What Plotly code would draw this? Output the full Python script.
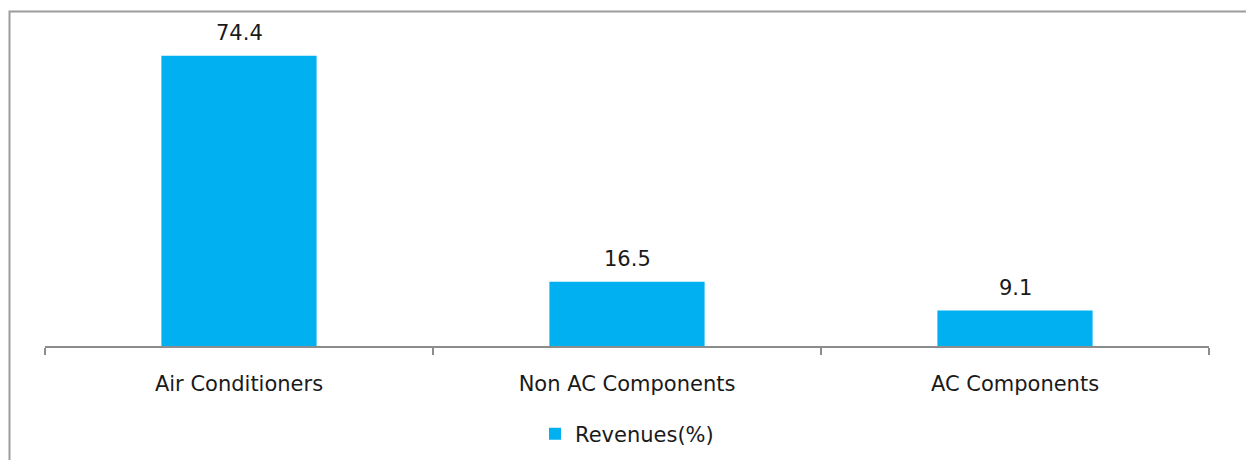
import plotly.graph_objects as go

categories = ["Air Conditioners", "Non AC Components", "AC Components"]
revenues = [74.4, 16.5, 9.1]
series_name = "Revenues(%)"

FONT = "DejaVu Sans"
TXT = "#1a1a1a"
FS = 21

fig = go.Figure()
fig.add_trace(go.Bar(
    x=categories, y=revenues, name=series_name,
    marker=dict(color="#00B0F0", line=dict(width=0)),
    showlegend=True,
))

for c, v in zip(categories, revenues):
    fig.add_annotation(x=c, y=v, text=f"{v:.1f}", showarrow=False,
                       yanchor="bottom", yshift=9,
                       font=dict(family=FONT, size=FS, color=TXT))

# outer chart border
fig.add_shape(type="rect", xref="paper", yref="paper",
              x0=-0.0305, x1=1.04, y0=-0.4, y1=1.072,
              line=dict(color="#9c9c9c", width=2), fillcolor="rgba(0,0,0,0)")

fig.update_layout(
    width=1246, height=460,
    margin=dict(l=45, r=37, t=34, b=114, autoexpand=False),
    paper_bgcolor="white", plot_bgcolor="white",
    bargap=0.6,
    font=dict(family=FONT, size=FS, color=TXT),
    legend=dict(orientation="h", x=0.5, xanchor="center", y=-0.282, yanchor="middle",
                font=dict(family=FONT, size=FS, color=TXT), itemwidth=30),
    xaxis=dict(type="category", range=[-0.5, 2.5], showline=True, linecolor="#8c8c8c",
               linewidth=2, ticks="outside", tickson="boundaries", ticklen=7,
               tickcolor="#8c8c8c", tickwidth=2, ticklabelstandoff=18,
               showgrid=False, zeroline=False,
               tickfont=dict(family=FONT, size=FS, color=TXT)),
    yaxis=dict(range=[0, 80], visible=False, showgrid=False, zeroline=False),
)

fig.write_html("out.html")
